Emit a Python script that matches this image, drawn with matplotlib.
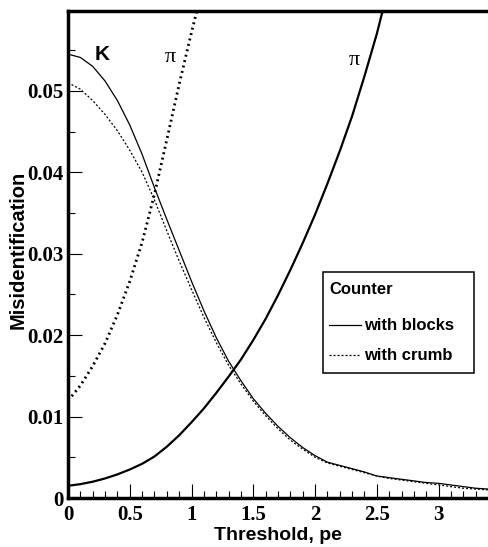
import matplotlib
matplotlib.use("Agg")
import matplotlib.pyplot as plt
from matplotlib.lines import Line2D
from matplotlib.patches import Rectangle

# misidentification vs threshold, two counter types
k_x = [0, 0.1, 0.2, 0.3, 0.4, 0.5, 0.6, 0.7, 0.8, 0.9, 1.0, 1.1, 1.2, 1.3,
       1.4, 1.5, 1.6, 1.7, 1.8, 1.9, 2.0, 2.1, 2.2, 2.3, 2.4, 2.5, 2.6, 2.7,
       2.8, 2.9, 3.0, 3.1, 3.2, 3.3, 3.4]
k_blocks = [0.0545, 0.0541, 0.0530, 0.0512, 0.0488, 0.0458, 0.0422, 0.0381,
            0.0342, 0.0304, 0.0266, 0.0230, 0.0197, 0.0168, 0.0144, 0.0122,
            0.0104, 0.0088, 0.0074, 0.0062, 0.0052, 0.0044, 0.0040, 0.0036,
            0.0032, 0.0027, 0.0025, 0.0023, 0.0021, 0.0019, 0.0018, 0.0016,
            0.0014, 0.0012, 0.0011]
k_crumb = [0.0510, 0.0502, 0.0488, 0.0471, 0.0451, 0.0427, 0.0400, 0.0366,
           0.0328, 0.0291, 0.0256, 0.0222, 0.0191, 0.0163, 0.0140, 0.0119,
           0.0101, 0.0085, 0.0071, 0.0060, 0.0050, 0.0043, 0.0039, 0.0035,
           0.0031, 0.0027, 0.0024, 0.0022, 0.0020, 0.0018, 0.0016, 0.0014,
           0.0012, 0.0011, 0.0010]

pi_blocks_x = [0, 0.1, 0.2, 0.3, 0.4, 0.5, 0.6, 0.7, 0.8, 0.9, 1.0, 1.1, 1.2,
               1.3, 1.4, 1.5, 1.6, 1.7, 1.8, 1.9, 2.0, 2.1, 2.2, 2.3, 2.4, 2.5,
               2.55]
pi_blocks = [0.0015, 0.0017, 0.0020, 0.0024, 0.0029, 0.0035, 0.0042, 0.0051,
             0.0063, 0.0077, 0.0093, 0.0110, 0.0129, 0.0149, 0.0170, 0.0194,
             0.0220, 0.0249, 0.0280, 0.0313, 0.0348, 0.0386, 0.0426, 0.0469,
             0.0518, 0.0570, 0.0600]

pi_crumb_x = [0.03, 0.1, 0.2, 0.3, 0.4, 0.5, 0.6, 0.7, 0.8, 0.9, 1.0, 1.05]
pi_crumb = [0.0125, 0.0138, 0.0162, 0.0190, 0.0225, 0.0266, 0.0314, 0.0373,
            0.0440, 0.0508, 0.0572, 0.0602]

xticks = [0, 0.5, 1, 1.5, 2, 2.5, 3]
xtick_labels = ["0", "0.5", "1", "1.5", "2", "2.5", "3"]
yticks = [0, 0.01, 0.02, 0.03, 0.04, 0.05]
ytick_labels = ["0", "0.01", "0.02", "0.03", "0.04", "0.05"]

W, H = 488, 547
fig = plt.figure(figsize=(W / 100, H / 100), dpi=100)


def fx(px):
    return px / W


def fy(py):
    return 1 - py / H


ax = fig.add_axes([fx(68), fy(498), fx(488) - fx(68), fy(11) - fy(498)])

dotted_fine = (0, (1.6, 1.6))
dotted_thick = (0, (0.7, 1.3))

ax.plot(k_x, k_blocks, color="black", lw=0.9, solid_joinstyle="round")
ax.plot(k_x, k_crumb, color="black", lw=0.9, linestyle=dotted_fine)
ax.plot(pi_blocks_x, pi_blocks, color="black", lw=1.6, solid_joinstyle="round")
ax.plot(pi_crumb_x, pi_crumb, color="black", lw=2.0, linestyle=dotted_thick)

ax.set_xlim(0, 3.4)
ax.set_ylim(0, 0.0598)

ax.set_xticks(xticks)
ax.set_xticklabels(xtick_labels)
ax.set_yticks(yticks)
ax.set_yticklabels(ytick_labels)
ax.set_xticks([i / 10 for i in range(35)], minor=True)
ax.set_yticks([i * 0.005 for i in range(12)], minor=True)

ax.tick_params(which="both", direction="in", top=False, right=False, width=0.8)
ax.tick_params(which="major", length=10)
ax.tick_params(which="minor", length=5)
ax.tick_params(axis="x", pad=5)
ax.tick_params(axis="y", pad=3)
for lbl in ax.get_xticklabels() + ax.get_yticklabels():
    lbl.set_fontfamily("Liberation Serif")
    lbl.set_fontweight("bold")
    lbl.set_fontsize(15)

for side in ["left", "bottom", "top"]:
    ax.spines[side].set_linewidth(2.5)
ax.spines["right"].set_visible(False)

# curve tags
ax.text(0.28, 0.0545, "K", fontfamily="Liberation Sans", fontweight="bold",
        fontsize=15, ha="center", va="center")
ax.text(0.83, 0.0541, "π", fontfamily="Liberation Serif", fontsize=16,
        ha="center", va="center")
ax.text(2.32, 0.0537, "π", fontfamily="Liberation Serif", fontsize=16,
        ha="center", va="center")

# axis titles
fig.text(fx(18), fy(250), "Misidentification", rotation=90, ha="center",
         va="center", fontfamily="Liberation Sans", fontweight="bold", fontsize=14.5)
fig.text(fx(278), fy(536), "Threshold, pe", ha="center", va="center",
         fontfamily="Liberation Sans", fontweight="bold", fontsize=14)

# legend box
fig.patches.append(Rectangle((fx(323), fy(373)), fx(474) - fx(323), fy(272) - fy(373),
                             transform=fig.transFigure, fill=False, lw=1.1,
                             edgecolor="black"))
leg_font = dict(fontfamily="Liberation Sans", fontweight="bold", fontsize=12,
                va="center", ha="left")
fig.text(fx(329), fy(290), "Counter", **leg_font)
fig.lines.append(Line2D([fx(329), fx(361)], [fy(325), fy(325)],
                        transform=fig.transFigure, color="black", lw=0.9))
fig.text(fx(364), fy(325), "with blocks", **leg_font)
fig.lines.append(Line2D([fx(329), fx(361)], [fy(355), fy(355)],
                        transform=fig.transFigure, color="black", lw=0.9,
                        linestyle=dotted_fine))
fig.text(fx(364), fy(355), "with crumb", **leg_font)

fig.savefig("out.png", dpi=100)
